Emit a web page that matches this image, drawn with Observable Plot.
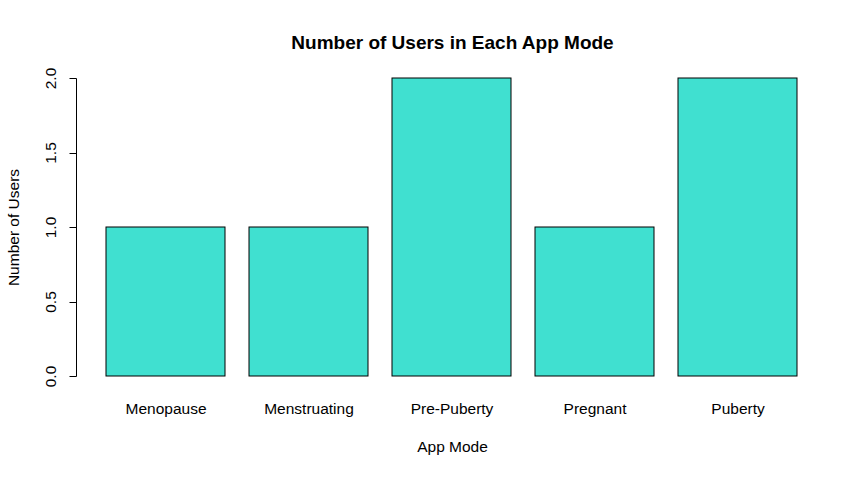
<!DOCTYPE html>
<html>
<head>
<meta charset="utf-8">
<script src="https://cdn.jsdelivr.net/npm/d3@7"></script>
<script src="https://cdn.jsdelivr.net/npm/@observablehq/plot@0.6"></script>
<style>
  html, body { margin: 0; padding: 0; background: #ffffff; }
  #chart svg { display: block; }
</style>
</head>
<body>
<div id="chart"></div>
<script>
const modes = ["Menopause", "Menstruating", "Pre-Puberty", "Pregnant", "Puberty"];
const users = [1, 1, 2, 1, 2];
const yTicks = [0, 0.5, 1, 1.5, 2];
const yTickLabels = ["0.0", "0.5", "1.0", "1.5", "2.0"];
const titleText = "Number of Users in Each App Mode";
const xTitle = "App Mode";
const yTitle = "Number of Users";

const data = modes.map((m, i) => ({mode: m, users: users[i]}));
const FONT = "'Liberation Sans', Arial, Helvetica, sans-serif";

// custom y axis line + ticks drawn through the y scale
function yAxisLine(index, scales, values, dimensions) {
  const g = d3.create("svg:g").attr("stroke", "black").attr("stroke-width", 1).attr("fill", "none");
  const x0 = dimensions.marginLeft - 30 + 0.5;
  const y = scales.y;
  g.append("line")
    .attr("x1", x0).attr("x2", x0)
    .attr("y1", Math.round(y(yTicks[0])) + 0.5).attr("y2", Math.round(y(yTicks[yTicks.length - 1])) + 0.5);
  for (const t of yTicks) {
    const yy = Math.round(y(t)) + 0.5;
    g.append("line").attr("x1", x0).attr("x2", x0 - 7).attr("y1", yy).attr("y2", yy);
  }
  return g.node();
}

const chart = Plot.plot({
  width: 866,
  height: 477,
  marginTop: 78,
  marginBottom: 101,
  marginLeft: 106,
  marginRight: 68,
  style: {fontFamily: FONT, background: "#ffffff", color: "black"},
  x: {domain: modes, paddingInner: 1 / 6, paddingOuter: 0, axis: null},
  y: {domain: [0, 2], axis: null},
  marks: [
    Plot.barY(data, {x: "mode", y: "users", fill: "#40E0D0", stroke: "black", strokeWidth: 1}),
    yAxisLine,
    Plot.text(yTicks, {
      y: d => d, text: (d, i) => yTickLabels[i], frameAnchor: "left", rotate: -90,
      lineAnchor: "bottom", textAnchor: "middle", dx: -51, fontSize: 15.5, fill: "black"
    }),
    Plot.text(modes, {
      x: d => d, text: d => d, frameAnchor: "bottom", lineAnchor: "bottom",
      dy: 37, fontSize: 15.5, fill: "black"
    }),
    Plot.text([xTitle], {
      text: d => d, frameAnchor: "bottom", lineAnchor: "bottom", dy: 75, fontSize: 15.5, fill: "black"
    }),
    Plot.text([yTitle], {
      text: d => d, frameAnchor: "left", rotate: -90, lineAnchor: "bottom", textAnchor: "middle",
      dx: -88, fontSize: 15.5, fill: "black"
    }),
    Plot.text([titleText], {
      text: d => d, frameAnchor: "top", lineAnchor: "bottom", dy: -30, fontSize: 19,
      fontWeight: "bold", fill: "black"
    })
  ]
});

document.getElementById("chart").appendChild(chart);
</script>
</body>
</html>
